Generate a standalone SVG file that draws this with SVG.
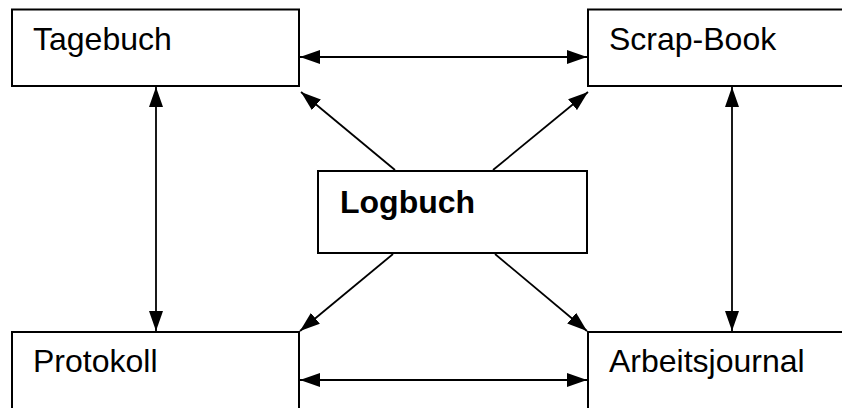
<svg xmlns="http://www.w3.org/2000/svg" width="842" height="408" viewBox="0 0 842 408">
<style>
.box{fill:#fff;stroke:#000;stroke-width:2}
.lbl{font-family:"Liberation Sans",Arial,sans-serif;font-size:32px;fill:#000}
.bold{font-weight:bold}
.con{stroke:#000;stroke-width:1.8;fill:none}
</style>
<defs>
<marker id="ah" viewBox="0 0 20 14" refX="20" refY="7" markerWidth="20" markerHeight="14" markerUnits="userSpaceOnUse" orient="auto-start-reverse">
<path d="M0,0 L20,7 L0,14 Z" fill="#000"/>
</marker>
</defs>
<rect width="842" height="408" fill="#fff"/>
<g id="tagebuch"><rect class="box" x="12" y="9.5" width="287" height="76.5"/><text class="lbl" x="33" y="50">Tagebuch</text></g>
<g id="scrapbook"><rect class="box" x="588" y="9.5" width="270" height="76.5"/><text class="lbl" x="609" y="50">Scrap-Book</text></g>
<g id="logbuch"><rect class="box" x="318" y="171" width="269" height="82"/><text class="lbl bold" x="340" y="213">Logbuch</text></g>
<g id="protokoll"><rect class="box" x="12" y="332" width="287" height="90"/><text class="lbl" x="33" y="372">Protokoll</text></g>
<g id="arbeitsjournal"><rect class="box" x="588" y="332" width="270" height="90"/><text class="lbl" x="609" y="372">Arbeitsjournal</text></g>
<g id="connectors">
<line class="con" x1="300" y1="57" x2="587" y2="57" marker-start="url(#ah)" marker-end="url(#ah)"/>
<line class="con" x1="300" y1="380" x2="587" y2="380" marker-start="url(#ah)" marker-end="url(#ah)"/>
<line class="con" x1="156" y1="87" x2="156" y2="331" marker-start="url(#ah)" marker-end="url(#ah)"/>
<line class="con" x1="732" y1="87" x2="732" y2="331" marker-start="url(#ah)" marker-end="url(#ah)"/>
<line class="con" x1="395" y1="170" x2="301" y2="92" marker-end="url(#ah)"/>
<line class="con" x1="493" y1="170" x2="588" y2="92" marker-end="url(#ah)"/>
<line class="con" x1="393" y1="254" x2="300" y2="331" marker-end="url(#ah)"/>
<line class="con" x1="495" y1="254" x2="587" y2="331" marker-end="url(#ah)"/>
</g>
</svg>
